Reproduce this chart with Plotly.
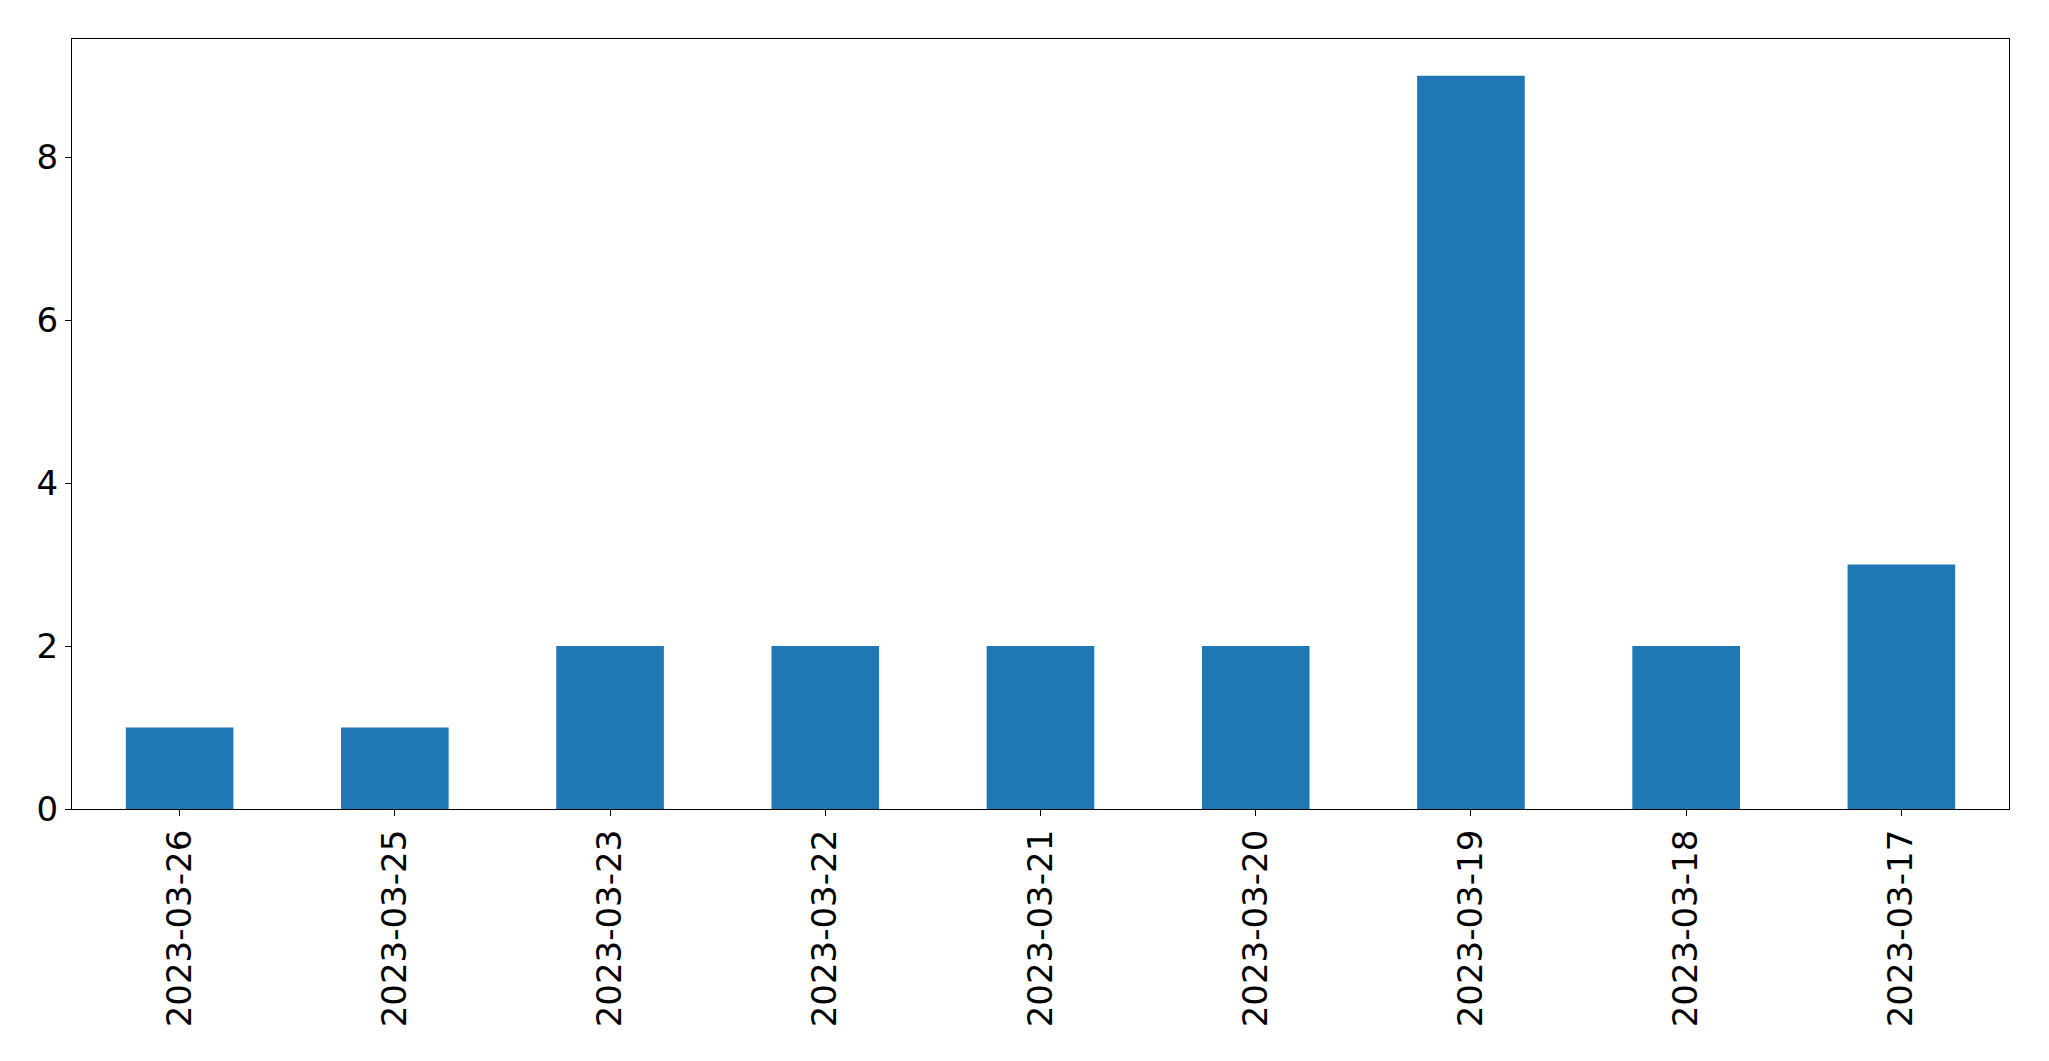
import plotly.graph_objects as go

dates = ["2023-03-26", "2023-03-25", "2023-03-23", "2023-03-22", "2023-03-21",
         "2023-03-20", "2023-03-19", "2023-03-18", "2023-03-17"]
counts = [1, 1, 2, 2, 2, 2, 9, 2, 3]

fig = go.Figure()
fig.add_trace(go.Bar(x=dates, y=counts, width=0.5, marker_color="#1f77b4",
                     marker_line_width=0))

axis_common = dict(showline=True, linecolor="black", linewidth=1.3, mirror=True,
                   ticks="outside", ticklen=6, tickwidth=1.3, tickcolor="black",
                   showgrid=False, zeroline=False,
                   tickfont=dict(family="DejaVu Sans", size=34, color="black"))

fig.update_layout(
    width=2041, height=1053,
    margin=dict(l=64, r=40, t=31, b=252, pad=0),
    plot_bgcolor="white", paper_bgcolor="white",
    showlegend=False,
    xaxis=dict(type="category", range=[-0.5, 8.5], tickangle=-90, **axis_common),
    yaxis=dict(range=[0, 9.45], tickvals=[0, 2, 4, 6, 8], **axis_common),
)

fig.write_html("out.html")
